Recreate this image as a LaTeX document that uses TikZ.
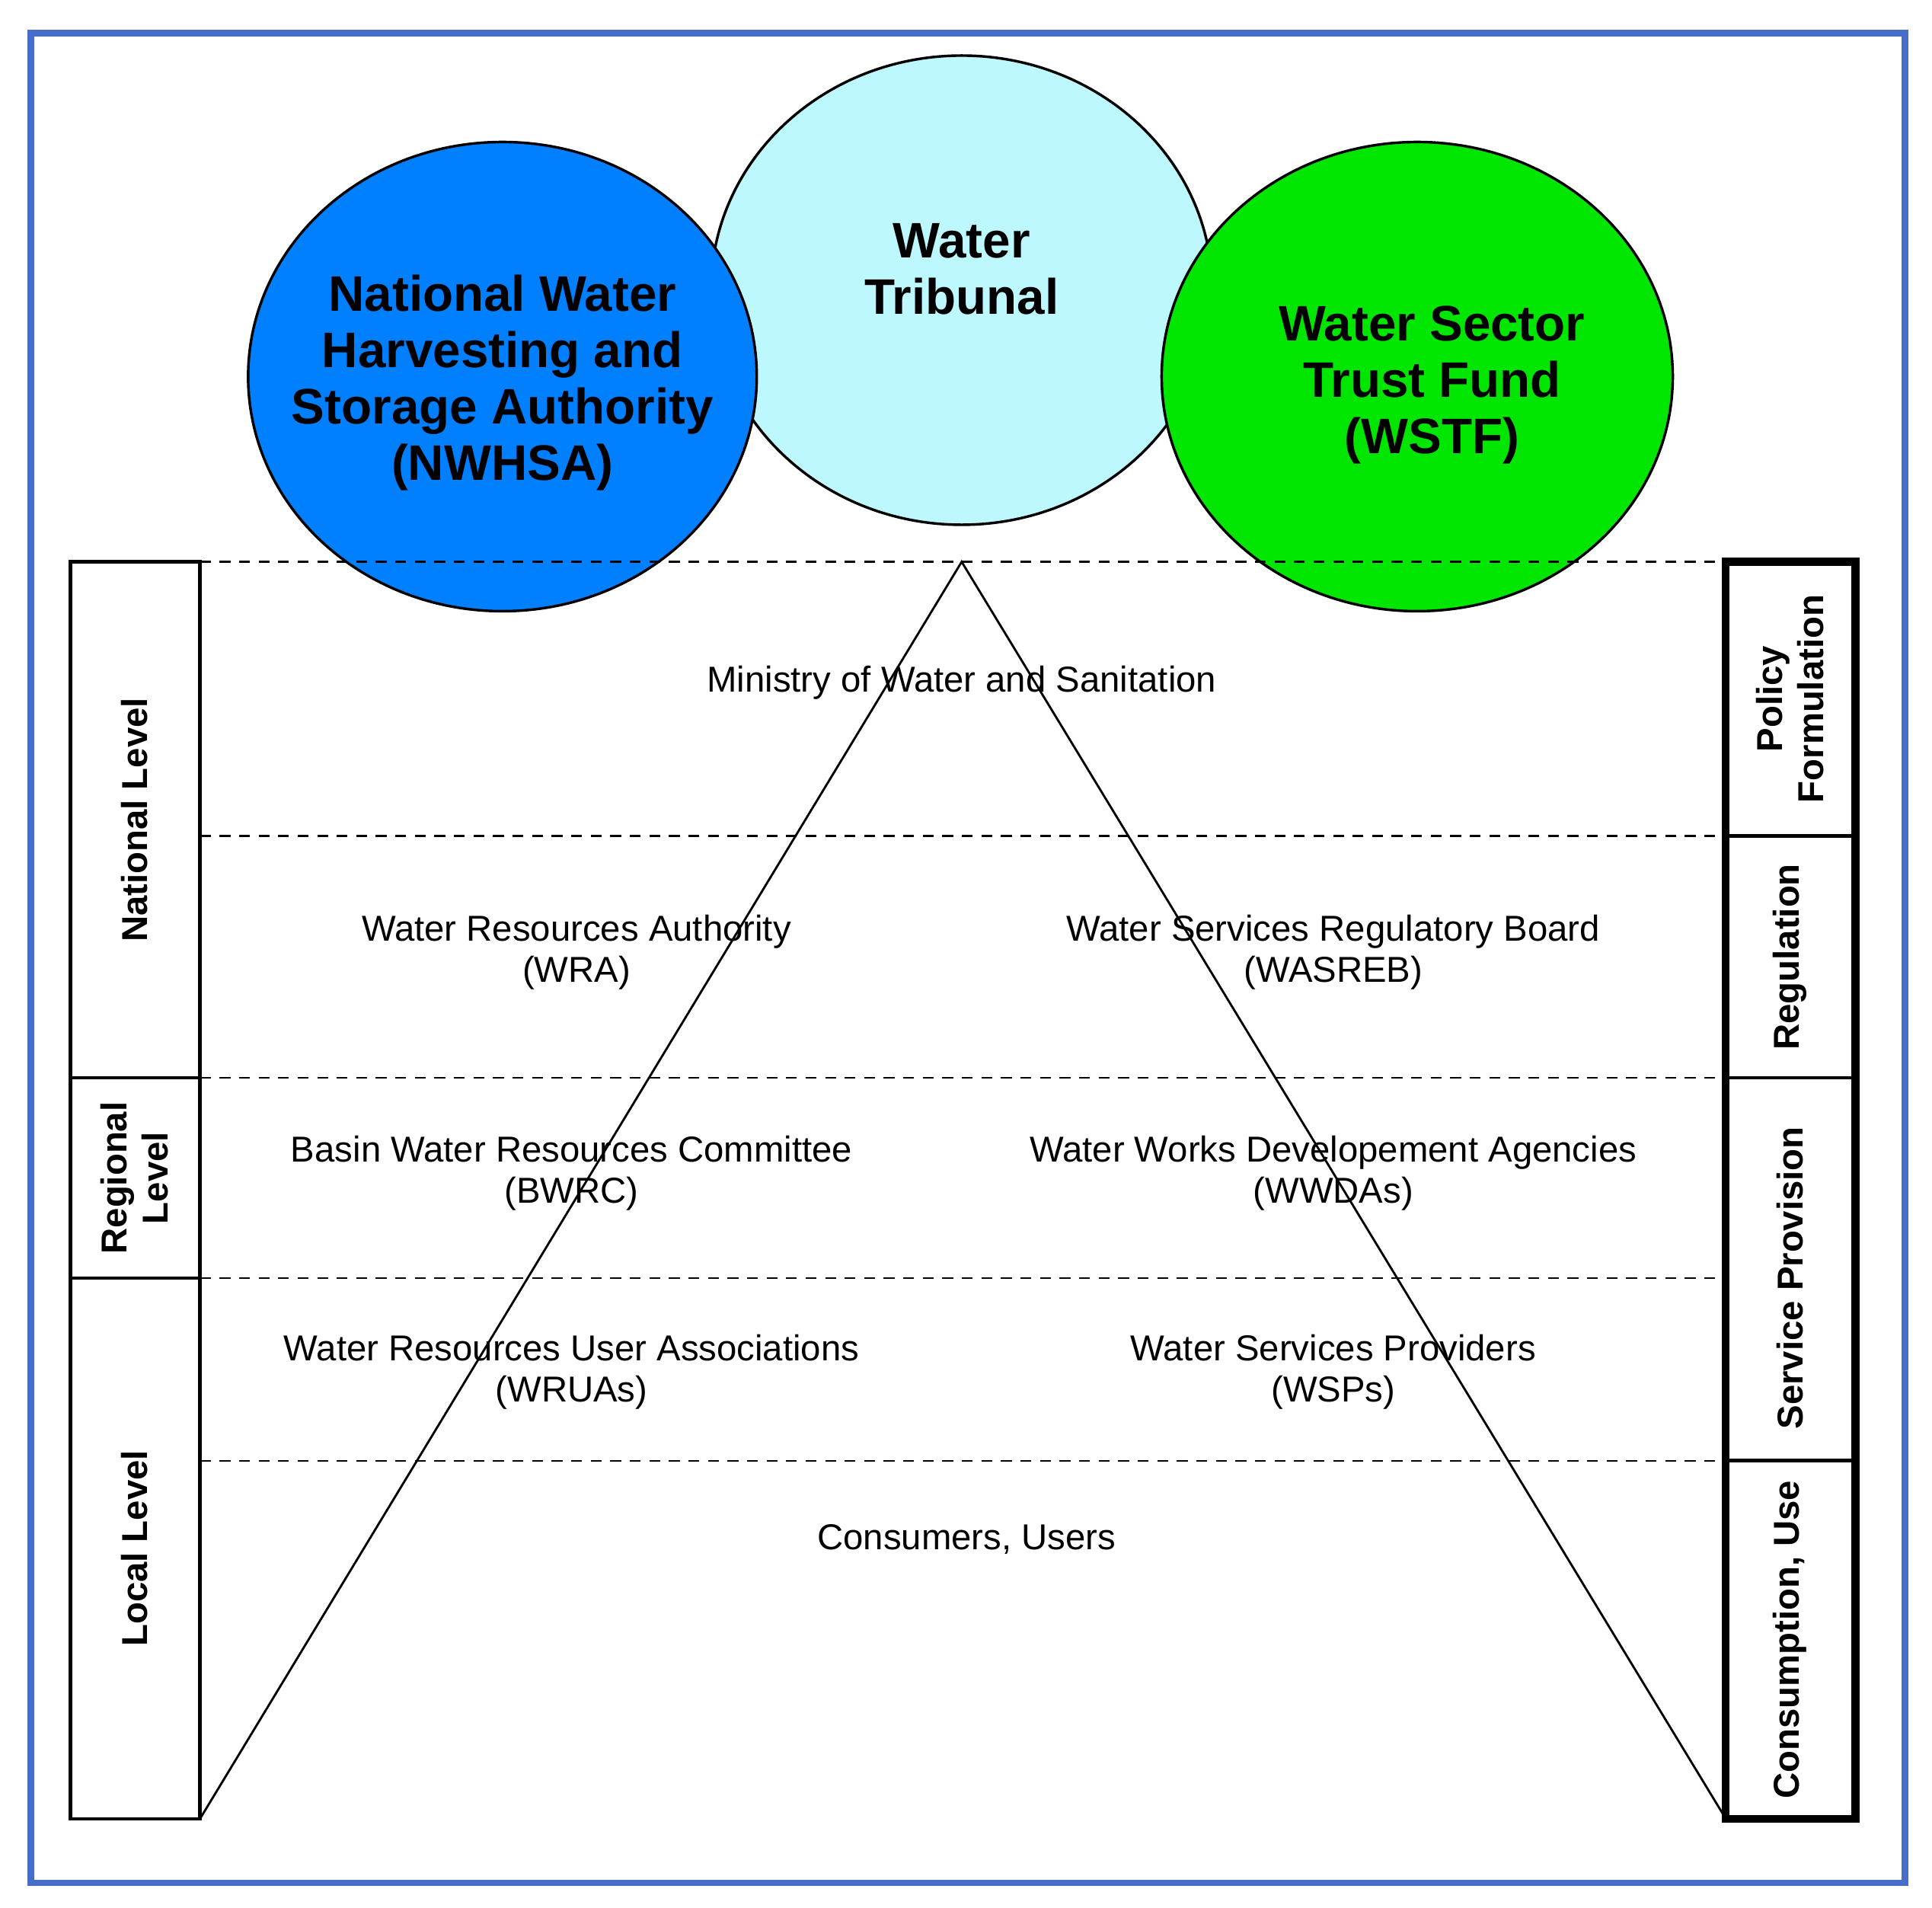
\documentclass[tikz,border=0pt]{standalone}
\usepackage{fontspec}
\setmainfont{Liberation Sans}
\begin{document}
\begin{tikzpicture}[x=0.01cm,y=-0.01cm,
  lbl/.style={font=\fontsize{8.3}{9.5}\selectfont,align=center},
  side/.style={font=\bfseries\fontsize{8.3}{9.5}\selectfont,align=center,rotate=90},
  big/.style={align=center,font=\bfseries\fontsize{11.5}{13}\selectfont},
  dline/.style={line width=0.4pt,dash pattern=on 2.5pt off 2pt}]
\useasboundingbox (0,0) rectangle (1565,1545);
\definecolor{bord}{RGB}{70,110,200}
\definecolor{trib}{RGB}{190,248,255}
\definecolor{nw}{RGB}{0,128,255}
\definecolor{ws}{RGB}{0,230,0}
\draw[bord,line width=1.5pt] (25,27) rectangle (1543,1525);
% circles
\fill[trib] (779,235) ellipse (203 and 190);
\draw[line width=0.6pt] (779,235) ellipse (203 and 190);
\node[big] (trib) at (779,218) {Water\\Tribunal};
\fill[nw] (407,305) ellipse (206 and 190);
\draw[line width=0.6pt] (407,305) ellipse (206 and 190);
\node[big] (nwhsa) at (407,310) {National Water\\Harvesting and\\Storage Authority\\(NWHSA)};
\fill[ws] (1148,305) ellipse (207 and 190);
\draw[line width=0.6pt] (1148,305) ellipse (207 and 190);
\node[big] (wstf) at (1160,312) {Water Sector\\Trust Fund\\(WSTF)};
% dashed lines
\foreach \y in {455,677,873,1035,1183} \draw[dline] (162,\y) -- (1398,\y);
% triangle
\coordinate (apex) at (779,455);
\coordinate (bl) at (162,1473);
\coordinate (br) at (1398,1473);
\draw[line width=0.5pt] (bl) -- (apex) -- (br);
% left boxes
\draw[line width=0.8pt] (57,455) rectangle (162,873) (57,873) rectangle (162,1035) (57,1035) rectangle (162,1473);
\node[side] (nat) at (109,664) {National Level};
\node[side] (reg) at (109,954) {Regional\\Level};
\node[side] (loc) at (109,1254) {Local Level};
% right boxes
\draw[line width=1.8pt] (1398,455) rectangle (1503,1473);
\draw[line width=0.8pt] (1398,677) -- (1503,677) (1398,873) -- (1503,873) (1398,1183) -- (1503,1183);
\node[side] (pol) at (1450,566) {Policy\\Formulation};
\node[side] (regu) at (1450,775) {Regulation};
\node[side] (serv) at (1450,1035) {Service Provision};
\node[side] (cons) at (1450,1328) {Consumption, Use};
% texts
\node[lbl] (min) at (779,553) {Ministry of Water and Sanitation};
\node[lbl] (wra) at (467,771) {Water Resources Authority\\(WRA)};
\node[lbl] (wasreb) at (1080,771) {Water Services Regulatory Board\\(WASREB)};
\node[lbl] (bwrc) at (463,950) {Basin Water Resources Committee\\(BWRC)};
\node[lbl] (wwda) at (1080,950) {Water Works Developement Agencies\\(WWDAs)};
\node[lbl] (wrua) at (463,1111) {Water Resources User Associations\\(WRUAs)};
\node[lbl] (wsp) at (1080,1111) {Water Services Providers\\(WSPs)};
\node[lbl] (cu) at (783,1247) {Consumers, Users};
\end{tikzpicture}
\end{document}
